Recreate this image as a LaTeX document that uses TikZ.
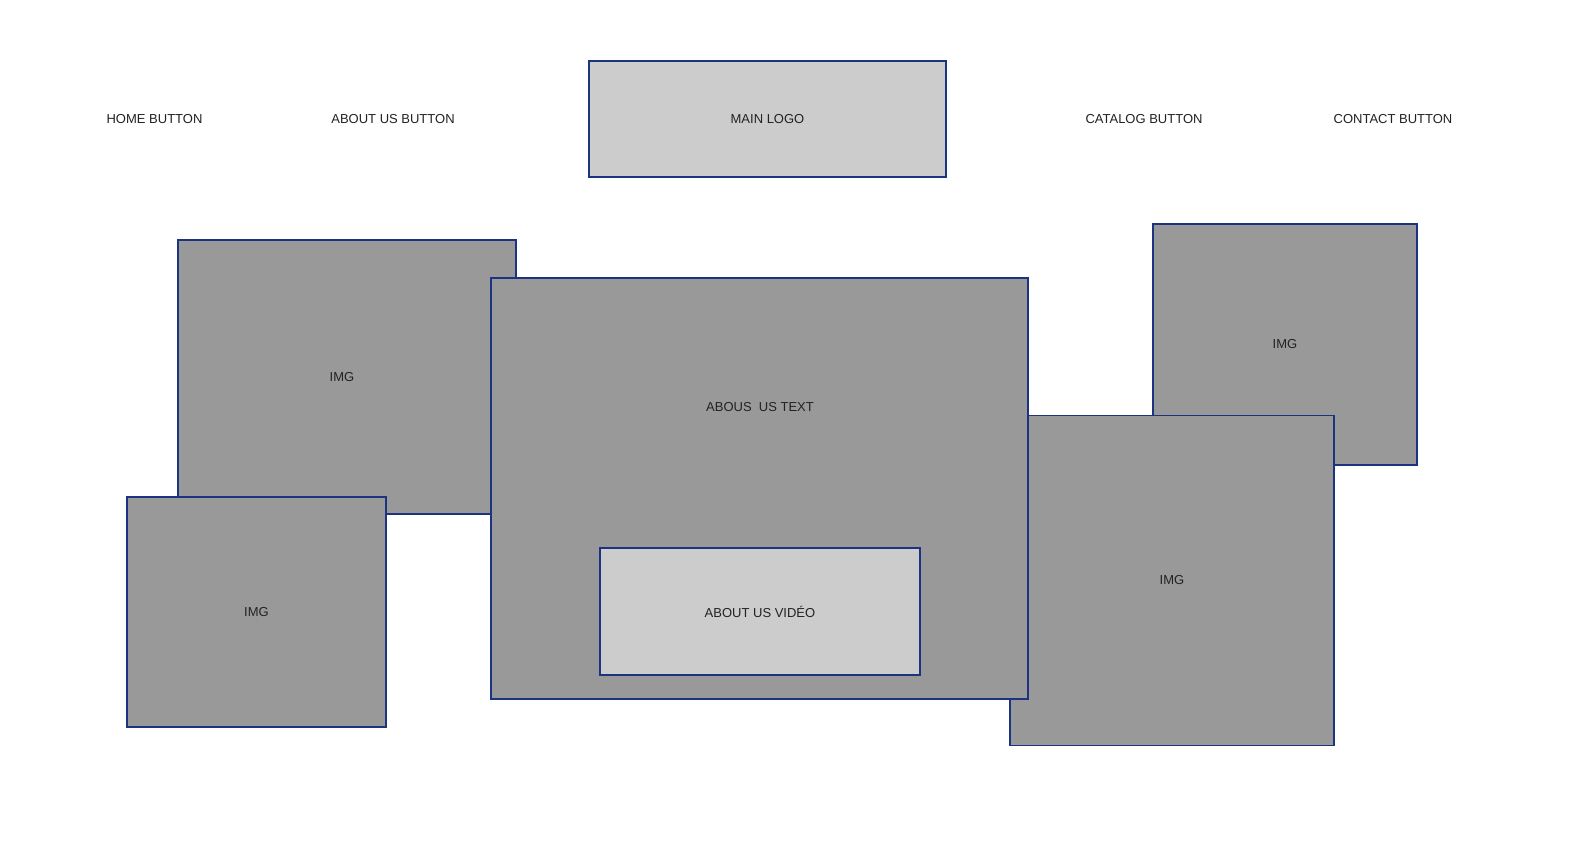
\documentclass[tikz,border=0pt]{standalone}
\usepackage{fontspec}
\setmainfont{Liberation Sans}
\definecolor{bordc}{HTML}{1C3382}
\definecolor{darkg}{HTML}{999999}
\definecolor{lightg}{HTML}{CCCCCC}
\definecolor{txt}{HTML}{222222}
\begin{document}
\begin{tikzpicture}[x=1pt,y=-1pt,
  box/.style={draw=bordc,line width=1.8pt,rectangle,inner sep=0pt,outer sep=0pt,font=\fontsize{13}{15}\selectfont,text=txt},
  imgbox/.style={box,fill=darkg},
  lightbox/.style={box,fill=lightg},
  lbl/.style={inner sep=0pt,font=\fontsize{13}{15}\selectfont,text=txt}]
\useasboundingbox[fill=white] (0,0) rectangle (1582,857);
% navigation labels
\node[lbl] (home) at (154.5,119) {HOME BUTTON};
\node[lbl] (about) at (393,119) {ABOUT US BUTTON};
\node[lbl] (catalog) at (1144,119) {CATALOG BUTTON};
\node[lbl] (contact) at (1393,119) {CONTACT BUTTON};
% image boxes
\node[imgbox,minimum width=338pt,minimum height=274pt] (lt) at (347,377) {};
\node[lbl] (lttext) at (342,377) {IMG};
\node[imgbox,minimum width=259pt,minimum height=230pt] (lb) at (256.5,612) {IMG};
\node[imgbox,minimum width=264pt,minimum height=241pt] (tr) at (1285,344.5) {IMG};
\node[imgbox,minimum width=324pt,minimum height=330pt] (br) at (1172,580.5) {IMG};
% main text box
\node[imgbox,minimum width=537pt,minimum height=421pt] (mid) at (759.5,488.5) {};
\node[lbl] (midtext) at (760,407) {ABOUS\ \ US TEXT};
\node[lightbox,minimum width=320pt,minimum height=127pt] (video) at (760,611.5) {ABOUT US VIDÉO};
% logo
\node[lightbox,minimum width=357pt,minimum height=116pt] (logo) at (767.5,119) {MAIN LOGO};
\end{tikzpicture}
\end{document}
